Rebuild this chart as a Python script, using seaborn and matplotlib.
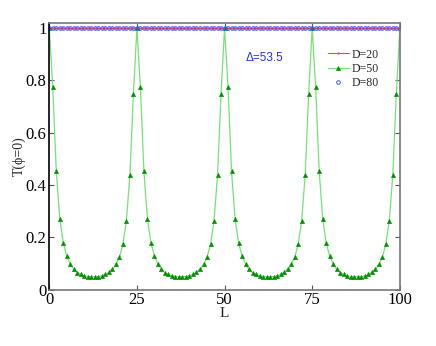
import pandas as pd
import matplotlib
matplotlib.use("Agg")
import matplotlib.pyplot as plt
import seaborn as sns

# data
L = list(range(0, 101))
t_d20 = [1.0, 1.0, 1.0, 1.0, 1.0, 1.0, 1.0, 1.0, 1.0, 1.0, 1.0, 1.0, 1.0, 1.0, 1.0, 1.0, 1.0,
         1.0, 1.0, 1.0, 1.0, 1.0, 1.0, 1.0, 1.0, 1.0, 1.0, 1.0, 1.0, 1.0, 1.0, 1.0, 1.0, 1.0,
         1.0, 1.0, 1.0, 1.0, 1.0, 1.0, 1.0, 1.0, 1.0, 1.0, 1.0, 1.0, 1.0, 1.0, 1.0, 1.0, 1.0,
         1.0, 1.0, 1.0, 1.0, 1.0, 1.0, 1.0, 1.0, 1.0, 1.0, 1.0, 1.0, 1.0, 1.0, 1.0, 1.0, 1.0,
         1.0, 1.0, 1.0, 1.0, 1.0, 1.0, 1.0, 1.0, 1.0, 1.0, 1.0, 1.0, 1.0, 1.0, 1.0, 1.0, 1.0,
         1.0, 1.0, 1.0, 1.0, 1.0, 1.0, 1.0, 1.0, 1.0, 1.0, 1.0, 1.0, 1.0, 1.0, 1.0, 1.0]
t_d50 = [1.0,
         0.773, 0.452, 0.271, 0.179, 0.128, 0.098, 0.078, 0.065, 0.058, 0.053, 0.050, 0.049,
         0.049, 0.050, 0.052, 0.058, 0.066, 0.079, 0.096, 0.123, 0.173, 0.263, 0.438, 0.748, 1.0,
         0.773, 0.452, 0.271, 0.179, 0.128, 0.098, 0.078, 0.065, 0.058, 0.053, 0.050, 0.049,
         0.049, 0.050, 0.052, 0.058, 0.066, 0.079, 0.096, 0.123, 0.173, 0.263, 0.438, 0.748, 1.0,
         0.773, 0.452, 0.271, 0.179, 0.128, 0.098, 0.078, 0.065, 0.058, 0.053, 0.050, 0.049,
         0.049, 0.050, 0.052, 0.058, 0.066, 0.079, 0.096, 0.123, 0.173, 0.263, 0.438, 0.748, 1.0,
         0.773, 0.452, 0.271, 0.179, 0.128, 0.098, 0.078, 0.065, 0.058, 0.053, 0.050, 0.049,
         0.049, 0.050, 0.052, 0.058, 0.066, 0.079, 0.096, 0.123, 0.173, 0.263, 0.438, 0.748, 1.0]
t_d80 = list(t_d20)

x_ticks = [0, 25, 50, 75, 100]
y_ticks = [0, 0.2, 0.4, 0.6, 0.8, 1.0]
y_tick_labels = ['0', '0.2', '0.4', '0.6', '0.8', '1']

df = pd.DataFrame({'L': L, 'D=20': t_d20, 'D=50': t_d50, 'D=80': t_d80})

sns.set_style('ticks')
plt.rcParams['font.family'] = ['Liberation Serif', 'DejaVu Serif']

fig = plt.figure(figsize=(4.36, 3.46), dpi=100)
ax = fig.add_axes([0.113, 0.163, 0.804, 0.771])

sns.lineplot(data=df, x='L', y='D=20', ax=ax, color='#ff4444', lw=0.8,
             marker='o', markersize=1.6, markeredgewidth=0, label='D=20')
sns.lineplot(data=df, x='L', y='D=50', ax=ax, color='#77e077', lw=0.9,
             marker='^', markersize=3.2, markerfacecolor='#009000',
             markeredgecolor='#009000', markeredgewidth=0.3, label='D=50')
sns.lineplot(data=df, x='L', y='D=80', ax=ax, linestyle='none',
             marker='o', markersize=2.6, markerfacecolor='none',
             markeredgecolor='#4455ff', markeredgewidth=0.7, label='D=80')

ax.set_xlim(0, 100)
ax.set_ylim(0, 1.02)
ax.set_xticks(x_ticks)
ax.set_yticks(y_ticks)
ax.set_yticklabels(y_tick_labels)
ax.tick_params(direction='in', length=3.5, width=0.8, labelsize=12,
               top=True, right=True, colors='#555555', labelcolor='black', pad=2)
ax.set_xlabel('L', fontsize=11, labelpad=-1)
ax.set_ylabel('T(ϕ=0)', fontsize=10, labelpad=0)

ax.spines['left'].set_color('black')
for s in ['top', 'right', 'bottom']:
    ax.spines[s].set_color('#777777')
for s in ax.spines.values():
    s.set_linewidth(1.2)

ax.text(61.5, 0.885, 'Δ=53.5', color='#2233dd', fontsize=8.5,
        family=['Liberation Sans', 'DejaVu Sans'], va='center', ha='center')

ax.legend(loc='upper right', bbox_to_anchor=(0.96, 0.93), frameon=False,
          fontsize=8.5, handlelength=1.7, handletextpad=0.25, labelspacing=0.2,
          borderaxespad=0.2)

plt.savefig('out.png', dpi=100)
plt.close()
